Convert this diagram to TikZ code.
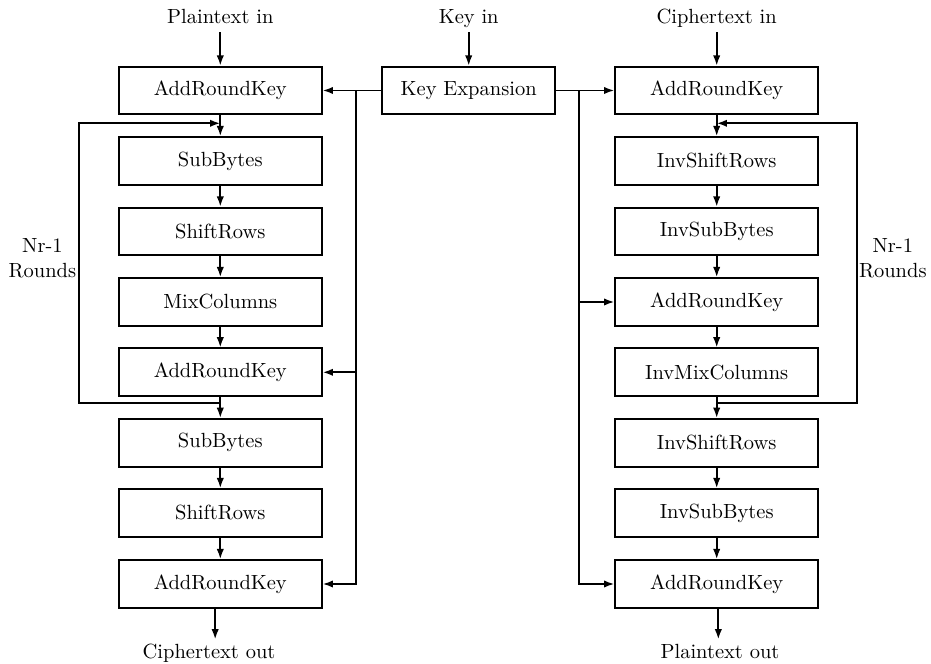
\documentclass[tikz,border=0pt]{standalone}
\usetikzlibrary{arrows.meta}
\begin{document}
\begin{tikzpicture}[x=0.4878pt,y=-0.4878pt,
  box/.style={draw,line width=0.9pt,minimum width=99pt,minimum height=23.3pt,inner sep=0pt},
  kbox/.style={draw,line width=0.9pt,minimum width=84.5pt,minimum height=23.3pt,inner sep=0pt},
  lbl/.style={inner sep=2pt,text height=7pt,text depth=2pt,anchor=base},
  arr/.style={-{Latex[length=5pt,width=3.6pt]},line width=0.9pt},
  ln/.style={line width=0.9pt}]
\useasboundingbox (0,0) rectangle (931,664);
% inputs
\node[lbl] (pin) at (220.3,23.7) {Plaintext in};
\node[lbl] (kin) at (468.7,23.7) {Key in};
\node[lbl] (cin) at (716.7,23.7) {Ciphertext in};
% key expansion
\node[kbox] (KE) at (468.7,90.5) {Key Expansion};
% left column
\node[box] (L1) at (220.3,90.5) {AddRoundKey};
\node[box] (L2) at (220.3,161) {SubBytes};
\node[box] (L3) at (220.3,231.5) {ShiftRows};
\node[box] (L4) at (220.3,302) {MixColumns};
\node[box] (L5) at (220.3,372.3) {AddRoundKey};
\node[box] (L6) at (220.3,442.8) {SubBytes};
\node[box] (L7) at (220.3,513) {ShiftRows};
\node[box] (L8) at (220.3,584) {AddRoundKey};
% right column
\node[box] (R1) at (716.7,90.5) {AddRoundKey};
\node[box] (R2) at (716.7,161) {InvShiftRows};
\node[box] (R3) at (716.7,231.5) {InvSubBytes};
\node[box] (R4) at (716.7,302) {AddRoundKey};
\node[box] (R5) at (716.7,372.3) {InvMixColumns};
\node[box] (R6) at (716.7,442.8) {InvShiftRows};
\node[box] (R7) at (716.7,513) {InvSubBytes};
\node[box] (R8) at (716.7,584) {AddRoundKey};
% outputs
\node[lbl] (lout) at (209,658.3) {Ciphertext out};
\node[lbl] (rout) at (720,658.3) {Plaintext out};
% round labels
\node[align=center,inner sep=0pt] (lrnd) at (42.4,258) {Nr-1\\Rounds};
\node[align=center,inner sep=0pt] (rrnd) at (892.8,258) {Nr-1\\Rounds};
% input arrows
\draw[arr] (pin.south) -- (L1.north);
\draw[arr] (kin.south) -- (KE.north);
\draw[arr] (cin.south) -- (R1.north);
% column arrows
\foreach \a/\b in {L1/L2,L2/L3,L3/L4,L4/L5,L5/L6,L6/L7,L7/L8,R1/R2,R2/R3,R3/R4,R4/R5,R5/R6,R6/R7,R7/R8}
  \draw[arr] (\a.south) -- (\b.north);
% output arrows
\draw[arr] ([xshift=-2.5pt]L8.south) -- ([xshift=-2.5pt]L8.south |- lout.north);
\draw[arr] ([xshift=0.8pt]R8.south) -- ([xshift=0.8pt]R8.south |- rout.north);
% loops
\coordinate (lbot) at (220.3,403.3);
\coordinate (ltop) at (220.3,123.3);
\draw[arr] (lbot) -- (79.3,403.3) |- (ltop);
\coordinate (rbot) at (716.7,403.3);
\coordinate (rtop) at (716.7,123.3);
\draw[arr] (rbot) -- (856.7,403.3) |- (rtop);
% key buses
\draw[arr] (KE.west) -- (L1.east);
\coordinate (lbus) at (355.7,90.5);
\draw[arr] (lbus) |- (L5.east);
\draw[arr] (lbus) |- (L8.east);
\draw[arr] (KE.east) -- (R1.west);
\coordinate (rbus) at (579.3,90.5);
\draw[arr] (rbus) |- (R4.west);
\draw[arr] (rbus) |- (R8.west);
\end{tikzpicture}
\end{document}
